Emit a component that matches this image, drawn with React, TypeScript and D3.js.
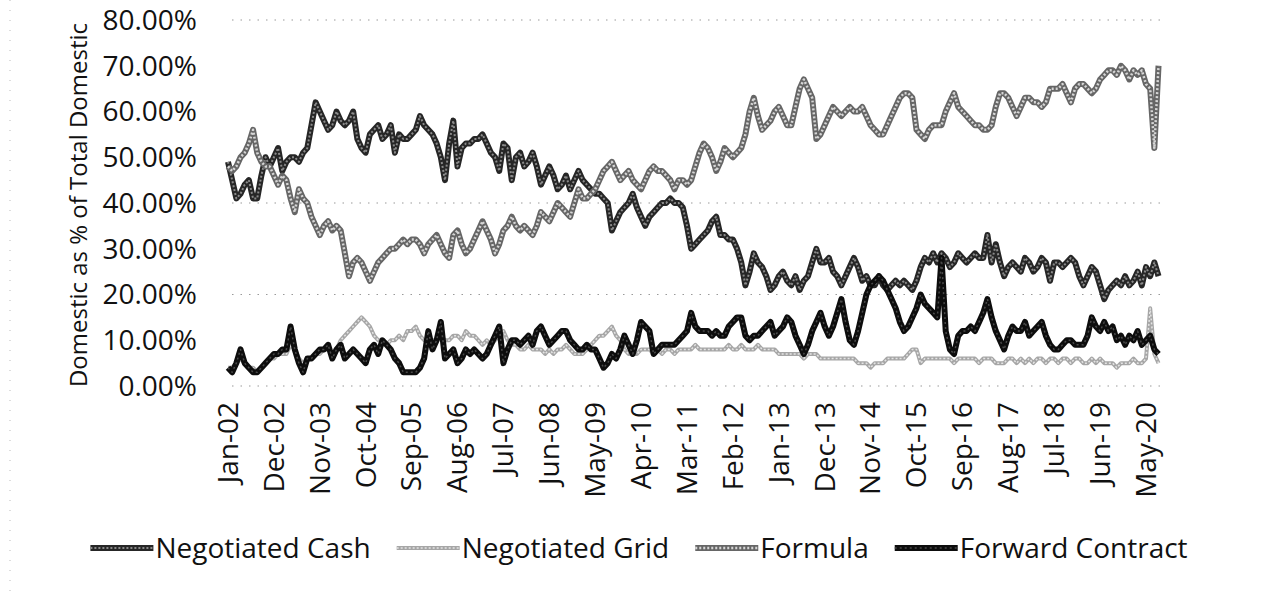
import React, { useEffect, useRef } from 'react';
import * as d3 from 'd3';

// monthly shares (%), Jan-02 .. Aug-20
const negotiatedCash = [
  49, 45, 41, 42, 44, 45, 41, 41, 46, 50,
  48, 50, 52, 47, 49, 50, 50, 49, 51, 52,
  57, 62, 60, 58, 56, 57, 60, 58, 57, 58,
  60, 54, 52, 51, 55, 56, 57, 54, 55, 57,
  51, 55, 54, 54, 55, 56, 59, 57, 56, 55,
  53, 50, 45, 53, 58, 48, 52, 53, 53, 54,
  54, 55, 53, 51, 50, 47, 53, 52, 45, 50,
  51, 48, 49, 51, 48, 44, 46, 48, 46, 43,
  44, 46, 43, 45, 47, 45, 44, 43, 42, 42,
  41, 40, 34, 36, 38, 39, 40, 42, 39, 37,
  35, 37, 38, 39, 40, 40, 41, 40, 40, 39,
  35, 30, 31, 32, 33, 34, 36, 37, 33, 33,
  32, 32, 30, 27, 22, 25, 29, 27, 26, 24,
  21, 22, 24, 25, 23, 22, 24, 21, 23, 24,
  27, 30, 27, 27, 28, 25, 24, 22, 24, 26,
  28, 26, 23, 24, 22, 22, 24, 22, 21, 22,
  23, 22, 23, 22, 21, 23, 26, 28, 27, 29,
  27, 29, 28, 26, 27, 29, 28, 27, 28, 29,
  28, 28, 33, 27, 31, 27, 24, 26, 27, 26,
  25, 28, 27, 25, 26, 28, 27, 23, 27, 27,
  26, 27, 28, 27, 24, 22, 24, 26, 25, 22,
  19, 21, 22, 23, 22, 24, 22, 23, 25, 22,
  26, 24, 27, 24,
];

const negotiatedGrid = [
  4, 4, 5, 6, 5, 4, 4, 3, 4, 5,
  6, 6, 7, 7, 7, 9, 8, 6, 5, 6,
  6, 7, 7, 8, 8, 7, 8, 10, 11, 12,
  13, 14, 15, 14, 13, 11, 10, 10, 9, 10,
  10, 11, 10, 12, 12, 13, 11, 10, 10, 10,
  10, 11, 10, 10, 11, 11, 10, 12, 11, 11,
  10, 9, 10, 9, 10, 11, 12, 10, 9, 9,
  8, 8, 9, 8, 8, 8, 7, 8, 7, 8,
  8, 9, 8, 7, 7, 7, 8, 9, 10, 11,
  11, 12, 13, 11, 10, 8, 7, 7, 7, 8,
  8, 8, 7, 8, 7, 8, 8, 7, 8, 8,
  8, 8, 9, 8, 8, 8, 8, 8, 8, 8,
  9, 8, 8, 9, 8, 8, 8, 9, 8, 8,
  8, 8, 7, 7, 7, 7, 7, 7, 6, 7,
  7, 7, 6, 6, 6, 6, 6, 6, 6, 6,
  6, 5, 5, 5, 4, 5, 5, 5, 6, 6,
  6, 6, 6, 7, 8, 8, 5, 6, 6, 6,
  6, 6, 6, 6, 5, 6, 6, 6, 6, 6,
  5, 6, 6, 6, 5, 5, 5, 6, 6, 5,
  6, 5, 6, 5, 6, 6, 5, 6, 6, 5,
  6, 6, 5, 6, 6, 5, 5, 6, 5, 6,
  5, 5, 5, 4, 5, 5, 5, 6, 5, 5,
  6, 17, 7, 5,
];

const formula = [
  48, 47, 48, 50, 51, 53, 56, 51, 49, 48,
  48, 46, 44, 46, 45, 41, 38, 43, 41, 40,
  37, 35, 33, 35, 36, 34, 35, 34, 29, 24,
  27, 28, 27, 25, 23, 25, 27, 28, 29, 30,
  30, 31, 32, 31, 32, 32, 31, 29, 31, 32,
  33, 31, 29, 28, 33, 34, 31, 29, 30, 32,
  34, 36, 34, 32, 29, 31, 34, 35, 37, 35,
  34, 35, 34, 33, 35, 38, 37, 36, 38, 40,
  39, 38, 37, 40, 43, 41, 41, 42, 43, 45,
  47, 48, 49, 47, 45, 46, 47, 45, 44, 43,
  45, 47, 48, 47, 47, 46, 45, 43, 45, 45,
  44, 45, 48, 51, 53, 52, 50, 47, 49, 52,
  51, 50, 51, 52, 55, 60, 63, 59, 56, 57,
  58, 60, 61, 59, 57, 57, 61, 65, 67, 65,
  63, 54, 55, 57, 59, 61, 60, 59, 60, 61,
  60, 60, 61, 59, 57, 56, 55, 55, 57, 59,
  61, 63, 64, 64, 63, 56, 55, 54, 56, 57,
  57, 57, 60, 62, 64, 61, 60, 59, 58, 57,
  57, 56, 56, 57, 61, 64, 64, 63, 61, 59,
  61, 63, 63, 62, 62, 61, 62, 65, 65, 65,
  66, 64, 62, 65, 66, 66, 65, 64, 65, 67,
  68, 69, 69, 68, 70, 69, 67, 69, 68, 69,
  66, 65, 52, 70,
];

const forwardContract = [
  4, 3, 5, 8, 5, 4, 3, 3, 4, 5,
  6, 7, 7, 8, 8, 13, 8, 5, 3, 6,
  6, 7, 8, 8, 9, 6, 8, 9, 6, 7,
  8, 7, 6, 5, 8, 9, 7, 10, 9, 8,
  6, 5, 3, 3, 3, 3, 4, 6, 12, 8,
  10, 14, 6, 7, 8, 5, 6, 8, 7, 8,
  7, 6, 7, 9, 11, 13, 5, 8, 10, 10,
  9, 10, 11, 9, 12, 13, 11, 9, 10, 11,
  12, 12, 10, 9, 8, 8, 9, 8, 8, 6,
  4, 5, 7, 6, 8, 11, 9, 7, 10, 14,
  13, 12, 7, 8, 9, 9, 9, 9, 10, 11,
  12, 16, 13, 12, 12, 12, 11, 12, 11, 11,
  13, 14, 15, 15, 11, 10, 11, 11, 12, 13,
  14, 11, 12, 13, 15, 14, 11, 9, 7, 9,
  12, 14, 16, 13, 11, 13, 16, 19, 14, 10,
  9, 12, 16, 20, 22, 23, 24, 23, 21, 19,
  17, 14, 12, 13, 15, 17, 20, 18, 17, 16,
  15, 28, 12, 8, 7, 11, 12, 12, 13, 12,
  14, 16, 19, 15, 12, 10, 8, 11, 13, 12,
  12, 14, 11, 12, 13, 14, 11, 9, 8, 8,
  9, 10, 10, 9, 9, 9, 11, 15, 13, 12,
  14, 12, 13, 10, 11, 9, 11, 10, 12, 9,
  10, 11, 8, 7,
];

const seriesNames = ['Negotiated Cash', 'Negotiated Grid', 'Formula', 'Forward Contract'];
const tickLabels = [
  'Jan-02', 'Dec-02', 'Nov-03', 'Oct-04', 'Sep-05', 'Aug-06', 'Jul-07',
  'Jun-08', 'May-09', 'Apr-10', 'Mar-11', 'Feb-12', 'Jan-13', 'Dec-13',
  'Nov-14', 'Oct-15', 'Sep-16', 'Aug-17', 'Jul-18', 'Jun-19', 'May-20',
];
const yTicks = [0, 10, 20, 30, 40, 50, 60, 70, 80];
const gridLevels = [0, 20, 40, 80];

// outer stroke + dashed inner stroke, to look like the scanned hatched lines
const styles = [
  { outer: '#262626', ow: 6, inner: '#8a8a8a', iw: 2, dash: '2 2' },
  { outer: '#a6a6a6', ow: 4, inner: '#e4e4e4', iw: 1.5, dash: '2 2' },
  { outer: '#666666', ow: 6, inner: '#d6d6d6', iw: 2.5, dash: '2 2' },
  { outer: '#0d0d0d', ow: 6, inner: '#4a4a4a', iw: 1.5, dash: '2 3' },
];

const FONT = "'Open Sans', sans-serif";

export default function App() {
  const svgRef = useRef<SVGSVGElement>(null);

  useEffect(() => {
    document.body.style.margin = '0';
    const svg = d3.select(svgRef.current);
    svg.selectAll('*').remove();

    const x = d3.scaleLinear().domain([0, 220]).range([228, 1146]);
    const y = d3.scaleLinear().domain([0, 80]).range([386, 20]);

    // faint dotted chart border bits
    svg.append('line')
      .attr('x1', 10).attr('x2', 10).attr('y1', 0).attr('y2', 592)
      .attr('stroke', '#bbb').attr('stroke-width', 1).attr('stroke-dasharray', '1 9');

    // gridlines
    svg.append('g').selectAll('line').data(gridLevels).join('line')
      .attr('x1', 232).attr('x2', 1166)
      .attr('y1', d => y(d)).attr('y2', d => y(d))
      .attr('stroke', '#9a9a9a').attr('stroke-width', 1.2)
      .attr('stroke-dasharray', '1.5 7');

    // y tick labels
    svg.append('g').selectAll('text').data(yTicks).join('text')
      .attr('x', 197).attr('y', d => y(d)).attr('dy', '0.35em')
      .attr('text-anchor', 'end')
      .style('font-family', FONT).style('font-size', '28px').attr('fill', '#111')
      .text(d => d3.format('.2f')(d) + '%');

    // y title
    svg.append('text')
      .attr('transform', 'translate(79,205) rotate(-90)')
      .attr('text-anchor', 'middle').attr('dy', '0.35em')
      .style('font-family', FONT).style('font-size', '24px').attr('fill', '#111')
      .text('Domestic as % of Total Domestic');

    // x tick labels, every 11 months
    svg.append('g').selectAll('text').data(tickLabels).join('text')
      .attr('transform', (d, i) => `translate(${x(i * 11)},402) rotate(-90)`)
      .attr('text-anchor', 'end').attr('dy', '0.35em')
      .style('font-family', FONT).style('font-size', '28px').attr('fill', '#111')
      .text(d => d);

    const line = d3.line<number>()
      .x((d, i) => x(i))
      .y(d => y(d))
      .curve(d3.curveLinear);

    const series = [negotiatedCash, negotiatedGrid, formula, forwardContract];
    series.forEach((values, k) => {
      const s = styles[k];
      const g = svg.append('g');
      g.append('path').attr('d', line(values))
        .attr('fill', 'none').attr('stroke', s.outer).attr('stroke-width', s.ow)
        .attr('stroke-linejoin', 'round');
      g.append('path').attr('d', line(values))
        .attr('fill', 'none').attr('stroke', s.inner).attr('stroke-width', s.iw)
        .attr('stroke-dasharray', s.dash).attr('stroke-linejoin', 'round');
    });

    // legend
    const legend = svg.append('g');
    const lineLen = 63;
    const items = seriesNames.map((name, k) => {
      const g = legend.append('g');
      const s = styles[k];
      g.append('line').attr('x1', 0).attr('x2', lineLen).attr('y1', 0).attr('y2', 0)
        .attr('stroke', s.outer).attr('stroke-width', s.ow);
      g.append('line').attr('x1', 0).attr('x2', lineLen).attr('y1', 0).attr('y2', 0)
        .attr('stroke', s.inner).attr('stroke-width', s.iw).attr('stroke-dasharray', s.dash);
      const t = g.append('text').attr('x', lineLen + 2).attr('dy', '0.35em')
        .style('font-family', FONT).style('font-size', '28px').attr('fill', '#111')
        .text(name);
      const w = lineLen + 2 + (t.node() as SVGTextElement).getComputedTextLength();
      return { g, w };
    });
    const gap = 26;
    const total = d3.sum(items, d => d.w) + gap * (items.length - 1);
    let cx = 639 - total / 2;
    items.forEach(it => {
      it.g.attr('transform', `translate(${cx},548)`);
      cx += it.w + gap;
    });
  }, []);

  return (
    <svg ref={svgRef} width={1264} height={592} style={{ display: 'block', background: '#fff' }} />
  );
}
